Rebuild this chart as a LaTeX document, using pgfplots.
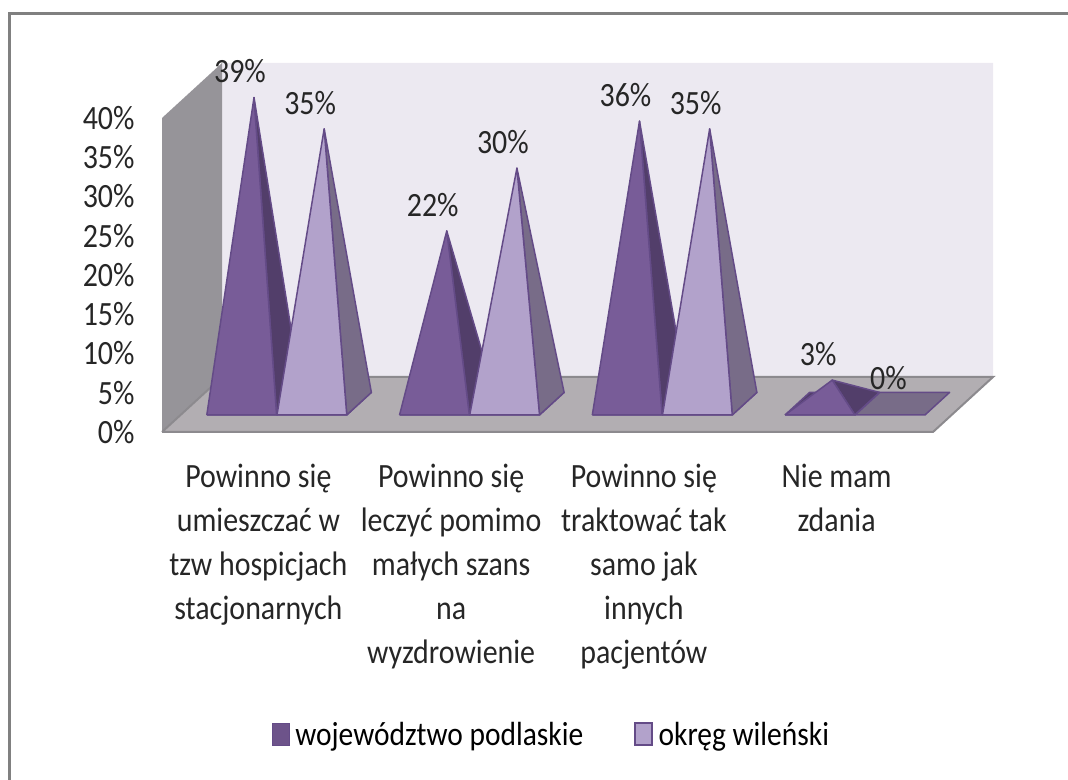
\documentclass[border=0pt]{standalone}
\usepackage{fontspec}
\setmainfont[FakeStretch=0.88]{Carlito}
\usepackage{pgfplots}
\pgfplotsset{compat=1.18}

\definecolor{wallback}{RGB}{236,233,241}
\definecolor{wallleft}{RGB}{150,148,153}
\definecolor{floorc}{RGB}{178,174,178}
\definecolor{flooredge}{RGB}{140,138,142}
\definecolor{darkfront}{RGB}{120,92,152}
\definecolor{darkside}{RGB}{82,62,106}
\definecolor{lightfront}{RGB}{178,162,203}
\definecolor{lightside}{RGB}{120,108,136}
\definecolor{edgec}{RGB}{100,75,135}
\definecolor{framec}{RGB}{128,128,128}

% #1 left x of the base, #2 value, #3 front colour, #4 side colour
\newcommand{\pyramid}[4]{%
  \pgfmathsetmacro{\xr}{#1+0.362}%
  \pgfmathsetmacro{\xa}{#1+0.181}%
  \addplot3[fill=#4,draw=edgec,line width=1.5pt,line join=round,forget plot] coordinates {
    (#1,0.31,0) (\xr,0.31,0) (\xr,0.72,0) (#1,0.72,0) (#1,0.31,0)};
  \ifdim #2pt>0pt
    \addplot3[fill=#4,draw=edgec,line width=1.5pt,line join=round,forget plot] coordinates {
      (\xr,0.31,0) (\xr,0.72,0) (\xa,0.515,#2) (\xr,0.31,0)};
    \addplot3[fill=#3,draw=edgec,line width=1.5pt,line join=round,forget plot] coordinates {
      (#1,0.31,0) (\xr,0.31,0) (\xa,0.515,#2) (#1,0.31,0)};
  \fi
  \node[font=\fontsize{34}{34}\selectfont,text=black!85,xshift=-14pt,yshift=26pt]
    at (axis cs:#1+0.181,0.515,#2) {#2\%};
}

\begin{document}
\begin{tikzpicture}
\begin{axis}[
  x={(192.75pt,0pt)}, y={(60pt,55pt)}, z={(0pt,7.85pt)},
  xmin=0, xmax=4, ymin=0, ymax=1, zmin=0, zmax=40,
  clip=false,
  axis line style={draw=none},
  major tick length=0pt,
  ytick=\empty,
  xtick={0.5,1.5,2.5,3.5},
  xticklabels={
    {Powinno się\\umieszczać w\\tzw hospicjach\\stacjonarnych},
    {Powinno się\\leczyć pomimo\\małych szans\\na\\wyzdrowienie},
    {Powinno się\\traktować tak\\samo jak\\innych\\pacjentów},
    {Nie mam\\zdania}},
  x tick label style={align=center,anchor=north,yshift=-29pt,
    font=\fontsize{34}{43.8}\selectfont,text=black!85},
  ztick={0,5,10,15,20,25,30,35,40},
  zticklabels={0\%,5\%,10\%,15\%,20\%,25\%,30\%,35\%,40\%},
  z tick label style={anchor=east,font=\fontsize{34}{34}\selectfont,text=black!85,xshift=-24pt},
  legend style={at={(axis cs:2.02,0,-38.5)},anchor=center,draw=none,fill=none,
    legend columns=2,font=\fontsize{33.5}{33.5}\selectfont,
    /tikz/every even column/.append style={column sep=49pt}},
]
% picture area and outer frame
\path (axis cs:-0.8405,0,55.03) rectangle (axis cs:4.7004,0,-44.33);
\fill[framec] (axis cs:-0.799,0,-44.33) rectangle (axis cs:-0.7835,0,53.5);
\fill[framec] (axis cs:-0.799,0,53.5) rectangle (axis cs:4.7004,0,53.1);
% walls and floor
\addplot3[fill=wallback,draw=none,forget plot] coordinates {(0,1,0) (4,1,0) (4,1,40) (0,1,40) (0,1,0)};
\addplot3[fill=wallleft,draw=none,forget plot] coordinates {(0,0,0) (0,1,0) (0,1,40) (0,0,40) (0,0,0)};
\addplot3[fill=floorc,draw=flooredge,line width=2pt,forget plot] coordinates {(0,0,0) (4,0,0) (4,1,0) (0,1,0) (0,0,0)};

\addlegendimage{legend image code/.code={\fill[darkfront!70!darkside,draw=edgec,line width=1pt] (0pt,-11pt) rectangle (17pt,11pt);\path (21pt,0pt);}}
\addlegendentry{województwo podlaskie}
\addlegendimage{legend image code/.code={\fill[lightfront,draw=edgec,line width=2pt] (0pt,-11pt) rectangle (17pt,11pt);\path (21pt,0pt);}}
\addlegendentry{okręg wileński}

\pyramid{0.136}{39}{darkfront}{darkside}
\pyramid{0.5}{35}{lightfront}{lightside}
\pyramid{1.136}{22}{darkfront}{darkside}
\pyramid{1.5}{30}{lightfront}{lightside}
\pyramid{2.136}{36}{darkfront}{darkside}
\pyramid{2.5}{35}{lightfront}{lightside}
\pyramid{3.136}{3}{darkfront}{darkside}
\pyramid{3.5}{0}{lightfront}{lightside}
\end{axis}
\end{tikzpicture}
\end{document}
